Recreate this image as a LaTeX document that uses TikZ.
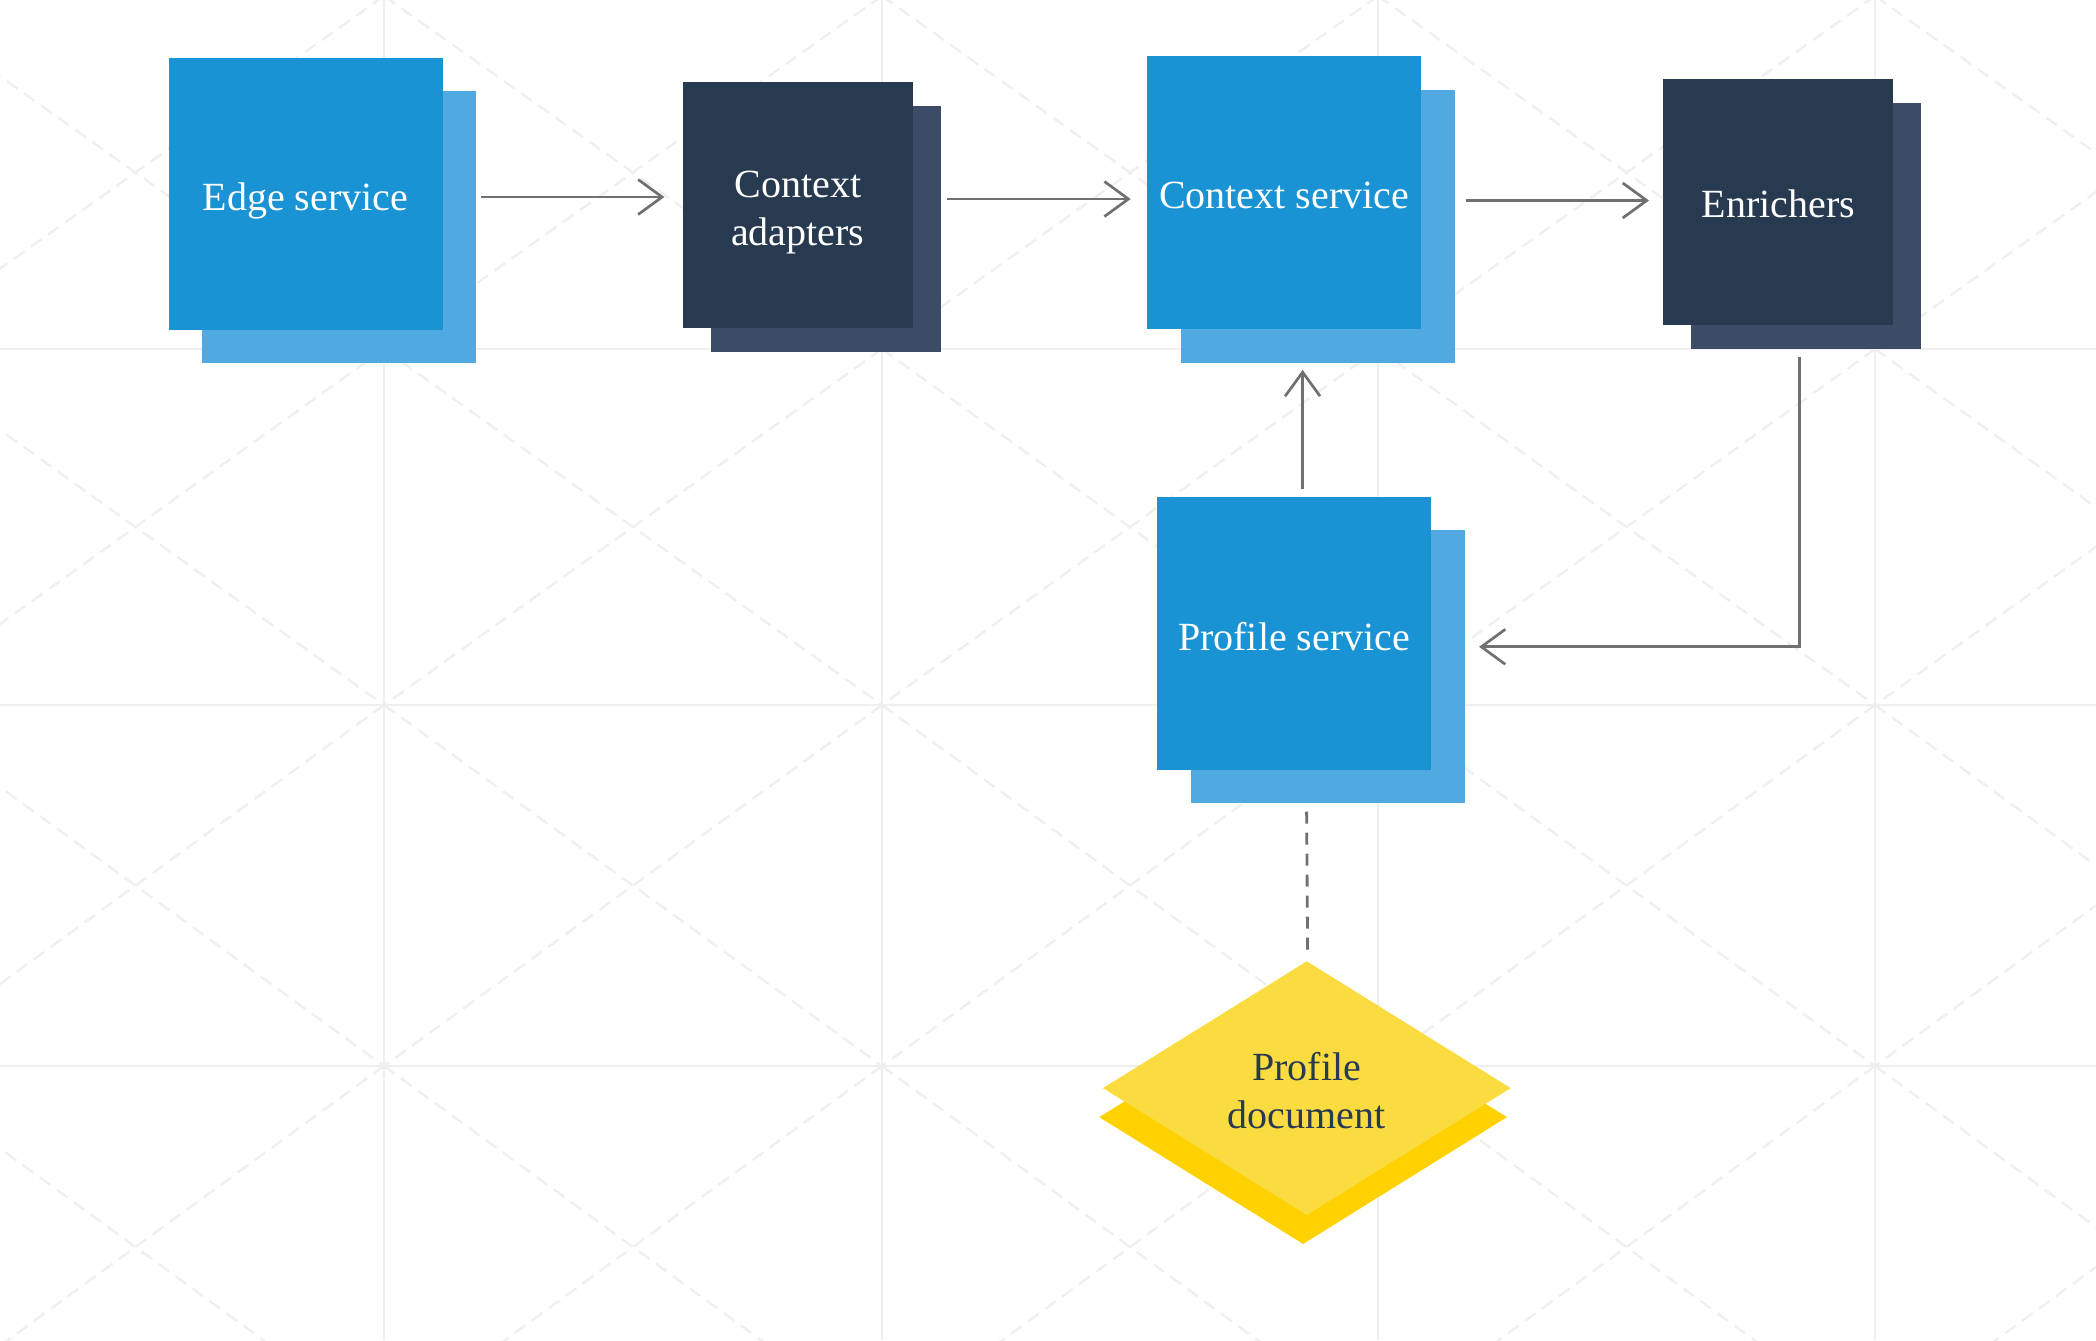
\documentclass[tikz,border=0pt]{standalone}
\usepackage{fontspec}
\setmainfont{Liberation Serif}
\usetikzlibrary{positioning,calc,arrows.meta,shapes.geometric}

\definecolor{blueFront}{HTML}{1993D4}
\definecolor{blueBack}{HTML}{51A9E2}
\definecolor{darkFront}{HTML}{283A50}
\definecolor{darkBack}{HTML}{3C4C66}
\definecolor{yellowFront}{HTML}{FADC41}
\definecolor{yellowBack}{HTML}{FFD100}
\definecolor{flowGray}{HTML}{707070}
\definecolor{gridGray}{HTML}{EFEFEF}

\tikzset{
	label font/.style={font=\fontsize{20pt}{24pt}\selectfont, align=center},
	blue box/.style={minimum width=137pt, minimum height=136.5pt, inner sep=0pt},
	dark box/.style={minimum width=115pt, minimum height=123pt, inner sep=0pt},
	one line/.style={text height=20.3pt, text depth=4pt},
	two lines/.style={text height=44.3pt},
	flow/.style={draw=flowGray, line width=1.35pt, -{Straight Barb[length=12pt,width=17.5pt,line width=1.35pt]}},
	link/.style={draw=flowGray, line width=1.4pt, dash pattern=on 6pt off 4.5pt},
	doc shape/.style={diamond, aspect=1.6, inner sep=0pt, minimum width=204pt, minimum height=127pt},
	grid line/.style={draw=gridGray, line width=1pt},
	grid dash/.style={draw=gridGray, line width=1.2pt, dash pattern=on 6.5pt off 4pt},
}

\begin{document}
\begin{tikzpicture}[x=0.5pt, y=-0.5pt]
	\path[use as bounding box] (0,0) rectangle (2096,1340);
	\begin{scope}
		\clip (0,0) rectangle (2096,1340);
		\foreach \gx in {384,882,1378,1875}
			\draw[grid line] (\gx,0) -- (\gx,1340);
		\foreach \gy in {349,705,1066}
			\draw[grid line] (0,\gy) -- (2096,\gy);
		\foreach \xa/\xb in {-113/384,384/882,882/1378,1378/1875,1875/2372}
			\foreach \ya/\yb in {-4/349,349/705,705/1066,1066/1428} {
				\draw[grid dash] (\xa,\ya) -- (\xb,\yb);
				\draw[grid dash] (\xb,\ya) -- (\xa,\yb);
			}
	\end{scope}

	\node[blue box, minimum height=136pt, fill=blueBack] (edgeback) at (339,227) {};
	\node[blue box, minimum height=136pt, label font, one line, fill=blueFront, text=white, at=(edgeback), xshift=-16.75pt, yshift=16.5pt] (edge) {Edge service};

	\node[dark box, fill=darkBack, right=117pt of edgeback, yshift=-1pt] (adaptersback) {};
	\node[dark box, label font, two lines, fill=darkFront, text=white, at=(adaptersback), xshift=-14pt, yshift=12pt] (adapters) {Context\\adapters};

	\node[blue box, fill=blueBack, right=119.5pt of adaptersback, yshift=1.5pt] (contextback) {};
	\node[blue box, label font, one line, fill=blueFront, text=white, at=(contextback), xshift=-16.75pt, yshift=16.75pt] (context) {Context service};

	\node[dark box, fill=darkBack, right=118pt of contextback] (enrichersback) {};
	\node[dark box, label font, one line, fill=darkFront, text=white, at=(enrichersback), xshift=-14pt, yshift=12.25pt] (enrichers) {Enrichers};

	\node[blue box, fill=blueBack, below=83.5pt of contextback, xshift=5pt] (profileback) {};
	\node[blue box, label font, one line, fill=blueFront, text=white, at=(profileback), xshift=-16.75pt, yshift=16.5pt] (profile) {Profile service};

	\node[doc shape, fill=yellowBack, below=93pt of profileback, xshift=-12.25pt] (documentback) {};
	\node[doc shape, label font, text height=40.3pt, fill=yellowFront, text=darkFront, at=(documentback), xshift=1.85pt, yshift=14.5pt] (document) {Profile\\document};

	\draw[flow] ($(edgeback.east |- edge)+(2.5pt,-1.5pt)$) -- ($(adapters.west |- edge)+(-9pt,-1.5pt)$);
	\draw[flow] ($(adaptersback.east |- adapters)+(3pt,3pt)$) -- ($(context.west |- adapters)+(-8pt,3pt)$);
	\draw[flow] ($(contextback.east |- context)+(5.5pt,-4pt)$) -- ($(enrichers.west |- context)+(-7pt,-4pt)$);
	\draw[flow] ($(profile.north)+(4.25pt,4pt)$) -- ($(contextback.south -| profile.north)+(4.25pt,-3.5pt)$);
	\draw[flow] ($(enrichersback.south)+(-3.5pt,-4pt)$) |- ($(profileback.east)+(7pt,10pt)$);
	\draw[link] ($(profileback.south)+(-10.5pt,-4pt)$) -- ($(document.north)+(0.4pt,5.5pt)$);
\end{tikzpicture}
\end{document}
